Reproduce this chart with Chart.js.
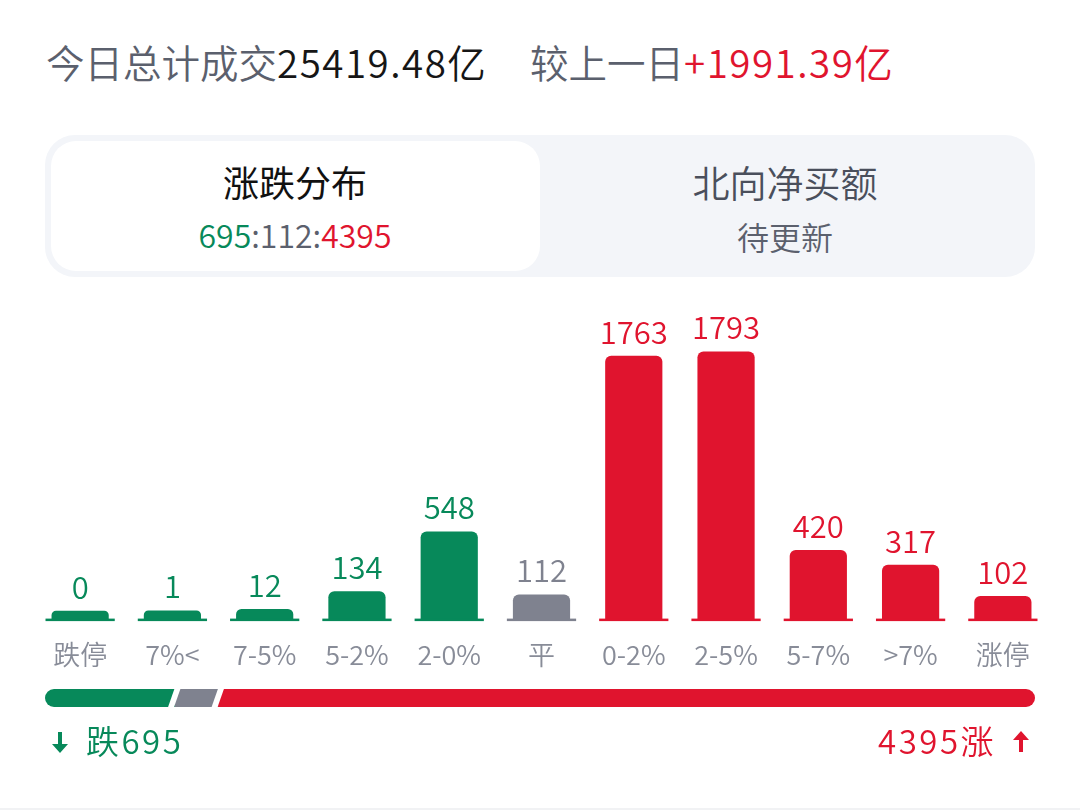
<!DOCTYPE html>
<html>
  <head>
    <meta charset="utf-8">
    <title>涨跌分布</title>
    <script src="https://cdn.jsdelivr.net/npm/chart.js"></script>
    <style>
      html, body { margin: 0; padding: 0; background: #fff; }
      body { width: 1080px; height: 810px; position: relative; overflow: hidden;
             font-family: "Noto Sans CJK SC", "Noto Sans", sans-serif; font-weight: 350; }
      .abs { position: absolute; white-space: nowrap; line-height: 1; }
      .gray { color: #5b606d; }
      .green { color: #07895a; }
      .red { color: #e0142e; }
      .mid { color: #5b606d; }
      .num { letter-spacing: 1.5px; }
      .wide { letter-spacing: 2.5px; }
      #panel { position: absolute; left: 45px; top: 135px; width: 990px; height: 142px;
               background: #f3f5f9; border-radius: 30px; }
      #tab { position: absolute; left: 51px; top: 141px; width: 489px; height: 130px;
             background: #fff; border-radius: 25px; }
      .center { transform: translateX(-50%); }
      #bars { position: absolute; left: 0; top: 0; }
      #split { position: absolute; left: 45px; top: 689px; }
      #rule { position: absolute; left: 0; top: 808px; width: 1080px; height: 2px; background: #f1f2f4; }
      svg { vertical-align: middle; }
    </style>
  </head>
  <body>
    <div class="abs" style="left:46px; top:42px; font-size:38.5px;">
      <span class="gray">今日总计成交</span><span style="color:#161616" class="num" id="turnover"></span>
    </div>
    <div class="abs" style="left:530px; top:42px; font-size:38.5px;">
      <span class="gray">较上一日</span><span class="red num" id="change"></span>
    </div>

    <div id="panel"></div>
    <div id="tab"></div>
    <div class="abs center" style="left:295px; top:163px; font-size:36px; color:#111; font-weight:400;">涨跌分布</div>
    <div class="abs center" style="left:295px; top:218px; font-size:32px;" id="ratio"></div>
    <div class="abs center" style="left:785px; top:164px; font-size:37px; color:#4a4f5c;">北向净买额</div>
    <div class="abs center" style="left:785px; top:220px; font-size:32px; color:#5b606d;">待更新</div>

    <canvas id="bars" width="1080" height="810"></canvas>
    <canvas id="split" width="990" height="18"></canvas>

    <div class="abs" style="left:52px; top:732px;">
      <svg width="16" height="21" viewBox="0 0 16 21"><path d="M6 0h4v12h6l-8 9l-8-9h6z" fill="#07895a"/></svg>
    </div>
    <div class="abs green wide" style="left:86px; top:724px; font-size:33px;" id="downText"></div>
    <div class="abs red wide" style="right:84px; top:724px; font-size:33px;" id="upText"></div>
    <div class="abs" style="left:1013px; top:731px;">
      <svg width="16" height="21" viewBox="0 0 16 21"><path d="M6 21h4v-12h6l-8-9l-8 9h6z" fill="#e0142e"/></svg>
    </div>
    <div id="rule"></div>

    <script>
      // 数据
      const turnover = '25419.48';
      const turnoverChange = '+1991.39';
      const categories = ['跌停', '7%<', '7-5%', '5-2%', '2-0%', '平', '0-2%', '2-5%', '5-7%', '>7%', '涨停'];
      const counts = [0, 1, 12, 134, 548, 112, 1763, 1793, 420, 317, 102];
      const downCount = 695;
      const flatCount = 112;
      const upCount = 4395;

      const GREEN = '#07895a', GRAY = '#7f828f', RED = '#e0142e';
      const flatIndex = categories.indexOf('平');
      const barColors = categories.map((_, i) => i < flatIndex ? GREEN : (i === flatIndex ? GRAY : RED));

      document.getElementById('turnover').textContent = turnover + '亿';
      document.getElementById('change').textContent = turnoverChange + '亿';
      document.getElementById('ratio').innerHTML =
        `<span class="green">${downCount}</span><span class="mid">:${flatCount}:</span><span class="red">${upCount}</span>`;
      document.getElementById('downText').textContent = '跌' + downCount;
      document.getElementById('upText').textContent = upCount + '涨';

      const FONT = '"Noto Sans CJK SC", "Noto Sans", sans-serif';
      const BASE = -62;

      // 柱顶数值 + 底部横线
      const barDecor = {
        id: 'barDecor',
        afterDatasetsDraw(chart) {
          const ctx = chart.ctx;
          const meta = chart.getDatasetMeta(0);
          ctx.save();
          meta.data.forEach((bar, i) => {
            const lw = bar.width * 69 / 57;
            ctx.fillStyle = barColors[i];
            ctx.fillRect(bar.x - lw / 2, bar.base - 1, lw, 2.5);
            ctx.font = '350 31px ' + FONT;
            ctx.textAlign = 'center';
            ctx.textBaseline = 'alphabetic';
            ctx.fillText(String(counts[i]), bar.x, bar.y - 12);
          });
          ctx.restore();
        }
      };

      new Chart(document.getElementById('bars').getContext('2d'), {
        type: 'bar',
        data: {
          labels: categories,
          datasets: [{
            data: counts,
            base: BASE,
            backgroundColor: barColors,
            borderRadius: { topLeft: 6, topRight: 6, bottomLeft: 0, bottomRight: 0 },
            borderSkipped: 'start',
            barPercentage: 0.62,
            categoryPercentage: 1
          }]
        },
        options: {
          responsive: false,
          animation: false,
          events: [],
          layout: { padding: { left: 34, right: 31, top: 307, bottom: 120 } },
          plugins: { legend: { display: false }, tooltip: { enabled: false } },
          scales: {
            x: {
              grid: { display: false, drawTicks: false },
              border: { display: false },
              ticks: { color: '#888c98', font: { family: FONT, size: 27, weight: 350 }, padding: 19, maxRotation: 0, autoSkip: false }
            },
            y: { display: false, min: BASE, max: 2100 }
          }
        },
        plugins: [barDecor]
      });

      // 底部涨跌比例条(平盘段保留最小宽度)
      const splitCounts = [downCount, flatCount, upCount];
      const splitColors = [GREEN, GRAY, RED];
      const total = splitCounts.reduce((a, b) => a + b, 0);
      const minShare = 0.045;
      const shown = splitCounts.map(v => Math.max(v, total * minShare));

      const splitShape = {
        id: 'splitShape',
        beforeDatasetsDraw(chart) {
          const { ctx, chartArea: a } = chart;
          ctx.save();
          ctx.beginPath();
          ctx.roundRect(a.left, a.top, a.right - a.left, a.bottom - a.top, 9);
          ctx.clip();
        },
        afterDatasetsDraw(chart) {
          const { ctx, chartArea: a } = chart;
          ctx.restore();
          ctx.save();
          ctx.fillStyle = '#fff';
          for (let d = 0; d < splitCounts.length - 1; d++) {
            const x = chart.getDatasetMeta(d).data[0].x;
            ctx.beginPath();
            ctx.moveTo(x - 3 + 3.5, a.top - 1);
            ctx.lineTo(x + 3 + 3.5, a.top - 1);
            ctx.lineTo(x + 3 - 3.5, a.bottom + 1);
            ctx.lineTo(x - 3 - 3.5, a.bottom + 1);
            ctx.closePath();
            ctx.fill();
          }
          ctx.restore();
        }
      };

      new Chart(document.getElementById('split').getContext('2d'), {
        type: 'bar',
        data: {
          labels: ['比例'],
          datasets: shown.map((v, i) => ({
            data: [v],
            backgroundColor: splitColors[i],
            borderWidth: 0,
            barPercentage: 1,
            categoryPercentage: 1
          }))
        },
        options: {
          indexAxis: 'y',
          responsive: false,
          animation: false,
          events: [],
          layout: { padding: 0 },
          plugins: { legend: { display: false }, tooltip: { enabled: false } },
          scales: {
            x: { display: false, stacked: true, min: 0, max: shown.reduce((a, b) => a + b, 0) },
            y: { display: false, stacked: true }
          }
        },
        plugins: [splitShape]
      });
    </script>
  </body>
</html>
